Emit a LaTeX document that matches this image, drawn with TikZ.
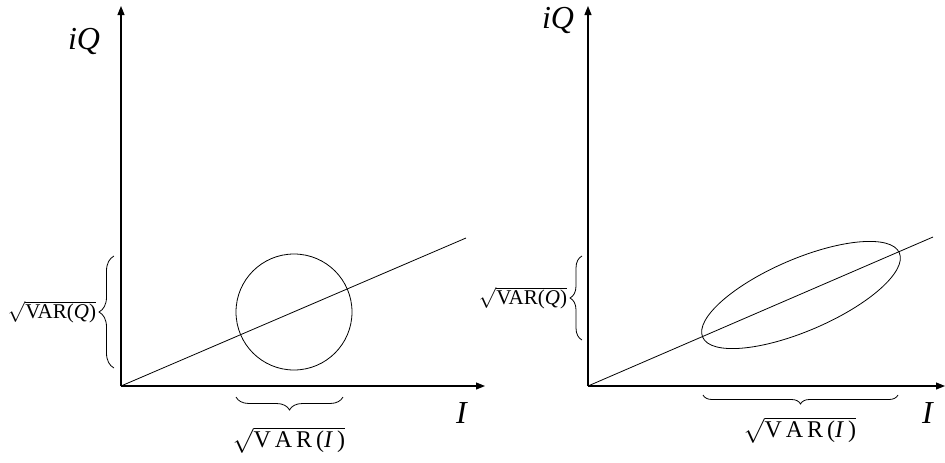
\documentclass[tikz,border=0pt]{standalone}
\usepackage{fontspec}
\setmainfont{Liberation Serif}
\usetikzlibrary{arrows.meta,decorations.pathreplacing}

\tikzset{
    axis/.style={line width=1.1pt,-{Triangle[length=9pt,width=7pt]}},
    curve/.style={line width=0.8pt},
    varbrace/.style={line width=0.8pt,decorate,decoration={brace,amplitude=#1}},
    biglabel/.style={font=\fontsize{32}{36}\selectfont},
    varlabel/.style={font=\fontsize{21}{24}\selectfont,inner sep=0pt},
    widelabel/.style={font=\fontsize{24}{28}\selectfont,inner sep=0pt}
}

\begin{document}
\begin{tikzpicture}[x=1pt,y=-1pt]
    \useasboundingbox (0,0) rectangle (945,463);

    % left panel: circle
    \coordinate (oL) at (121,386);
    \coordinate (yL) at (121,6);
    \coordinate (xL) at (485,386);
    \coordinate (eL) at (466,238);
    \draw[axis] (oL) -- (yL);
    \draw[axis] (oL) -- (xL);
    \draw[curve] (oL) -- (eL);
    \draw[curve] (294,312) circle (58);

    \node[biglabel] (iqL) at (84,41) {\textit{iQ}};
    \node[biglabel] (iL) at (462,413) {\textit{I}};

    \draw[varbrace=15pt] (114,368) -- (114,256);
    \node[varlabel] (vqL) at (52,312) {$\sqrt{\mbox{VAR(\textit{Q})}}$};
    \draw[varbrace=13pt] (343,397) -- (236,397);
    \node[widelabel] (viL) at (289,440) {$\sqrt{\mbox{V\,A\,R\,(\textit{I}\,)}}$};

    % right panel: ellipse
    \coordinate (oR) at (588,386);
    \coordinate (yR) at (588,6);
    \coordinate (xR) at (945,386);
    \coordinate (eR) at (933,237);
    \draw[axis] (oR) -- (yR);
    \draw[axis] (oR) -- (xR);
    \draw[curve] (oR) -- (eR);
    \draw[curve,rotate around={23.2:(801,295)}] (801,295) ellipse (107 and 36);

    \node[biglabel] (iqR) at (558,20) {\textit{iQ}};
    \node[biglabel] (iR) at (928,413) {\textit{I}};

    \draw[varbrace=12pt] (582,340) -- (582,256);
    \node[varlabel] (vqR) at (523,298) {$\sqrt{\mbox{VAR(\textit{Q})}}$};
    \draw[varbrace=9pt] (898,395) -- (703,395);
    \node[widelabel] (viR) at (800,430) {$\sqrt{\mbox{V\,A\,R\,(\textit{I}\,)}}$};
\end{tikzpicture}
\end{document}
